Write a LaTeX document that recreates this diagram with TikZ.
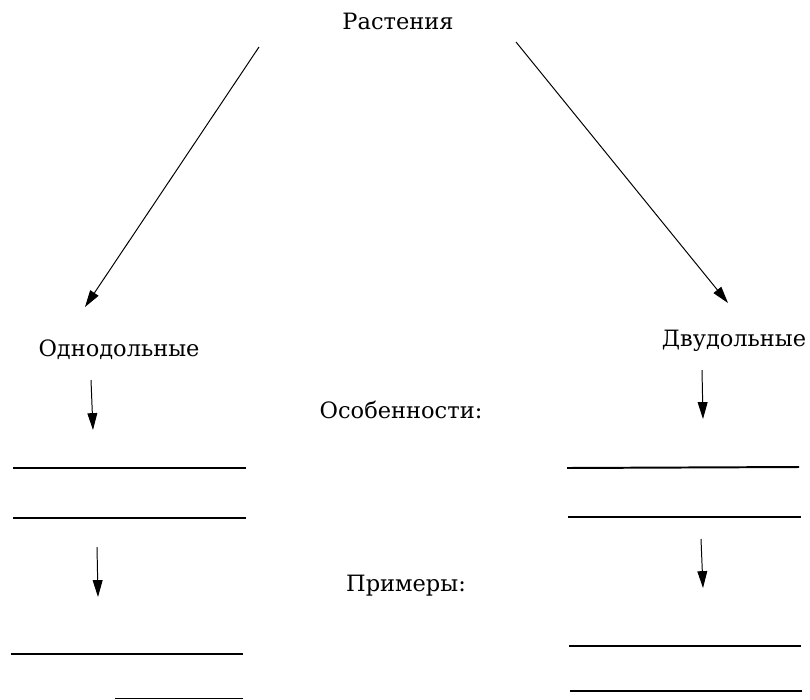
\documentclass[tikz,border=0pt]{standalone}
\usepackage{fontspec}
\setmainfont{DejaVu Serif}
\usetikzlibrary{arrows.meta}

\begin{document}
\begin{tikzpicture}[x=0.025cm,y=-0.025cm,
    label/.style={font=\fontsize{16}{19}\selectfont, anchor=base, inner sep=0pt},
    ptr/.style={line width=0.7pt, -{Triangle[length=12pt,width=7pt]}},
    blank/.style={line width=1.4pt}]
          \useasboundingbox (0,0) rectangle (810,699);
          \begin{scope}[every node/.style={label}]
            \node (plants) at (398,29) {Растения};
            \node (mono) at (119,356) {Однодольные};
            \node (di) at (734,346) {Двудольные};
            \node (feat) at (401,418) {Особенности:};
            \node (examples) at (406,591) {Примеры:};
          \end{scope}
          % arrow ends
          \coordinate (monoA) at (259,47);
          \coordinate (monoB) at (85,307);
          \coordinate (diA) at (516,42);
          \coordinate (diB) at (728,303);
          \coordinate (m1a) at (91,380);
          \coordinate (m1b) at (93,430);
          \coordinate (m2a) at (97,547);
          \coordinate (m2b) at (98,597);
          \coordinate (d1a) at (702,370);
          \coordinate (d1b) at (703,419);
          \coordinate (d2a) at (701,539);
          \coordinate (d2b) at (703,588);
          \path (monoA) [ptr] edge (monoB);
          \path (diA) [ptr] edge (diB);
          \path (m1a) [ptr] edge (m1b);
          \path (m2a) [ptr] edge (m2b);
          \path (d1a) [ptr] edge (d1b);
          \path (d2a) [ptr] edge (d2b);
          % blanks to fill in
          \begin{scope}[blank]
            \draw (13,468) -- (246,468);
            \draw (13,518) -- (246,518);
            \draw (11,654) -- (243,654);
            \draw (115,698.5) -- (243,698.5);
            \draw (567,468) -- (799,467);
            \draw (568,517) -- (801,517);
            \draw (569,646) -- (801,646);
            \draw (570,691) -- (802,691);
          \end{scope}
        \end{tikzpicture}
\end{document}
